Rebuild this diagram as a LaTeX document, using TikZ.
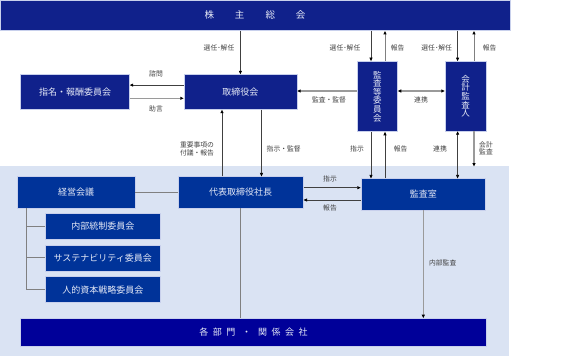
\documentclass[tikz,border=0pt]{standalone}
\usepackage{fontspec}
\setmainfont{Noto Sans CJK JP}
\usetikzlibrary{arrows.meta,calc}
\definecolor{navyA}{HTML}{10218B}
\definecolor{navyB}{HTML}{003399}
\definecolor{navyC}{HTML}{000099}
\definecolor{boxedge}{HTML}{C8D0EC}
\definecolor{boxtext}{HTML}{E6EAF7}
\definecolor{bglight}{HTML}{DAE3F3}
\definecolor{labgray}{HTML}{404040}
\definecolor{linedark}{HTML}{404040}
\definecolor{linegray}{HTML}{9A9A9A}
\definecolor{linemid}{HTML}{808080}
\begin{document}
\begin{tikzpicture}[x=1pt,y=-1pt,
  box/.style={draw=boxedge, line width=0.5pt, text=boxtext, font=\fontsize{9}{10}\selectfont, inner sep=0pt},
  ubox/.style={box, fill=navyA},
  lbox/.style={box, fill=navyB},
  vbox/.style={ubox, align=center, font=\fontsize{8.5}{8.6}\selectfont},
  lab/.style={font=\fontsize{6.8}{7.6}\selectfont, text=labgray, inner sep=0pt, align=center},
  cline/.style={draw=linedark, line width=0.6pt},
  mline/.style={draw=linemid, line width=1pt},
  gline/.style={draw=linegray, line width=1.5pt},
  arr/.style={-{Triangle[length=3.4pt,width=3pt,color=black]}},
  arrb/.style={{Triangle[length=3.4pt,width=3pt,color=black]}-{Triangle[length=3.4pt,width=3pt,color=black]}}
]
\useasboundingbox (0,0) rectangle (573,358);
\fill[bglight] (0,166) rectangle (509,356);

% nodes
\node[ubox, minimum width=510pt, minimum height=30.7pt, font=\fontsize{9.5}{10}\selectfont] (kabu) at (255,15.35) {株\hspace{21pt}主\hspace{21pt}総\hspace{21pt}会};
\node[ubox, minimum width=109pt, minimum height=35pt] (shimei) at (75,92) {指名・報酬委員会};
\node[ubox, minimum width=113pt, minimum height=35pt] (tori) at (240.4,92) {取締役会};
\node[vbox, minimum width=40.6pt, minimum height=70.3pt] (kansa) at (377.3,96.5) {監\\査\\等\\委\\員\\会};
\node[vbox, minimum width=41pt, minimum height=69.6pt] (kaikei) at (465.5,96.2) {会\\計\\監\\査\\人};
\node[lbox, minimum width=118pt, minimum height=31.3pt] (keiei) at (76,192.3) {経営会議};
\node[lbox, minimum width=125.3pt, minimum height=31.3pt] (daihyo) at (240.7,192.3) {代表取締役社長};
\node[lbox, minimum width=124.7pt, minimum height=31.3pt] (shitsu) at (423.3,194.3) {監査室};
\node[lbox, minimum width=115pt, minimum height=26pt] (naibu) at (102.8,226.3) {内部統制委員会};
\node[lbox, minimum width=115pt, minimum height=26pt] (sasu) at (102.8,258) {サステナビリティ委員会};
\node[lbox, minimum width=115pt, minimum height=26pt] (jin) at (102.8,289.7) {人的資本戦略委員会};
\node[box, fill=navyC, minimum width=465.6pt, minimum height=27.7pt] (bumon) at (253.5,332.2) {各\hspace{4.5pt}部\hspace{4.5pt}門\hspace{7pt}・\hspace{7pt}関\hspace{4.5pt}係\hspace{4.5pt}会\hspace{4.5pt}社};

% helper coordinates
\coordinate (xK1) at (371,0);
\coordinate (xK2) at (385,0);
\coordinate (xC1) at (457.6,0);
\coordinate (xC2) at (474,0);
\coordinate (xT1) at (222,0);
\coordinate (xT2) at (261.5,0);
\coordinate (xTree) at (26.7,0);
\coordinate (yS1) at (0,85.1);
\coordinate (yS2) at (0,98.3);
\coordinate (yM) at (0,91);
\coordinate (yD1) at (0,187.7);
\coordinate (yD2) at (0,200);
\coordinate (yKE) at (0,192.7);
\coordinate (kaiend) at (474,166.5);

% top connectors
\draw[cline,arr] (kabu.south -| tori.north) -- (tori.north);
\draw[cline,arr] (kabu.south -| xK1) -- (kansa.north -| xK1);
\draw[mline,arr] (kansa.north -| xK2) -- (kabu.south -| xK2);
\draw[cline,arr] (kabu.south -| xC1) -- (kaikei.north -| xC1);
\draw[mline,arr] (kaikei.north -| xC2) -- (kabu.south -| xC2);

\draw[cline,arr] (tori.west |- yS1) -- (shimei.east |- yS1);
\draw[gline,arr] (shimei.east |- yS2) -- (tori.west |- yS2);
\draw[gline,arr] (kansa.west |- yM) -- (tori.east |- yM);
\draw[gline,arrb] (kansa.east |- yM) -- (kaikei.west |- yM);

% middle connectors
\draw[cline,arr] (daihyo.north -| xT1) -- (tori.south -| xT1);
\draw[cline,arr] (tori.south -| xT2) -- (daihyo.north -| xT2);
\draw[cline,arr] (kansa.south -| xK1) -- (shitsu.north -| xK1);
\draw[cline,arr] (shitsu.north -| xK2) -- (kansa.south -| xK2);
\draw[cline,arrb] (kaikei.south -| xC1) -- (shitsu.north -| xC1);
\draw[gline,arr] (kaikei.south -| xC2) -- (kaiend);

\draw[cline,arr] (daihyo.east |- yD1) -- (shitsu.west |- yD1);
\draw[cline,arr] (shitsu.west |- yD2) -- (daihyo.east |- yD2);
\draw[mline] (keiei.east |- yKE) -- (daihyo.west |- yKE);

% tree
\draw[mline] (keiei.south -| xTree) -- (jin.west -| xTree) -- (jin.west);
\draw[mline] (naibu.west -| xTree) -- (naibu.west);
\draw[mline] (sasu.west -| xTree) -- (sasu.west);

\draw[mline] (daihyo.south) -- (bumon.north -| daihyo.south);
\draw[gline,arr] (shitsu.south) -- (bumon.north -| shitsu.south);

% labels
\node[lab] (l1) at (219,47.5) {選任･解任};
\node[lab] (l2) at (345,47.5) {選任･解任};
\node[lab] (l3) at (397.6,47.5) {報告};
\node[lab] (l4) at (436.7,47.5) {選任･解任};
\node[lab] (l5) at (489.7,47.5) {報告};
\node[lab] (l6) at (156,74) {諮問};
\node[lab] (l7) at (156,108.9) {助言};
\node[lab] (l8) at (329,100) {監査・監督};
\node[lab] (l9) at (421,100) {連携};
\node[lab] (l10) at (197,149) {重要事項の\\付議・報告};
\node[lab, anchor=west] (l11) at (266.5,149) {指示・監督};
\node[lab] (l12) at (357,149) {指示};
\node[lab] (l13) at (400.7,149) {報告};
\node[lab] (l14) at (440,149) {連携};
\node[lab] (l15) at (486,148.5) {会計\\監査};
\node[lab] (l16) at (330,179.3) {指示};
\node[lab] (l17) at (330,208.3) {報告};
\node[lab] (l18) at (442.7,263.3) {内部監査};
\end{tikzpicture}
\end{document}
